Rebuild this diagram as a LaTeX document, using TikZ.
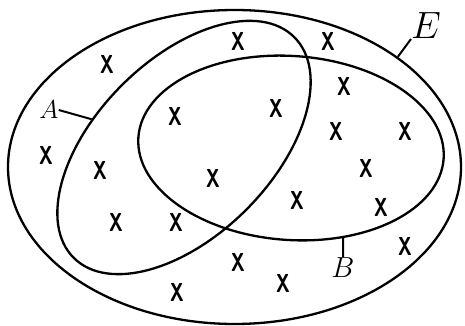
\RequirePackage{fix-cm}
\documentclass[tikz,border=0pt]{standalone}
\usepackage{graphicx}
\usepackage{tikz}
\usetikzlibrary{shapes.geometric}

\begin{document}
\begin{tikzpicture}[x=1pt,y=1pt,
  setline/.style={draw=black,line width=2.3pt,ellipse,inner sep=0pt},
  cross/.style={font=\sffamily\bfseries\fontsize{26}{26}\selectfont,inner sep=0pt},
  setlabel/.style={inner sep=0pt},
  leader/.style={draw=black,line width=2pt}]

\path[use as bounding box] (0,0) rectangle (465,326);
% the three sets
\node[setline,minimum width=453pt,minimum height=314pt] (setE) at (234.5,159) {};
\node[setline,minimum width=312pt,minimum height=176pt,rotate=45] (setA) at (184,178.5) {};
\node[setline,minimum width=306pt,minimum height=184pt,rotate=-4] (setB) at (291,178) {};
% labels
\node[setlabel,font=\fontsize{26}{28}\selectfont] (labA) at (49,216) {$A$};
\node[setlabel,font=\fontsize{29}{31}\selectfont,anchor=north] (labB) at (343,69) {$B$};
\node[setlabel,font=\fontsize{38}{40}\selectfont,anchor=south west] (labE) at (411,287) {$E$};
\draw[leader] (labA.east)--(setA.118);
\draw[leader] (setB.304)--(labB.north);
\draw[leader] (setE.34)--(labE.south west);
% the points
\foreach \px/\py in {107/64,238/41,328/41,344/86,175/116,276/108,336/131,405/131,
  46/155,100/170,213/178,366/168,297/200,381/207,116/222,176/222,
  238/262,283/283,405/246,177/292}
  \node[cross] at (\px,326-\py) {\scalebox{0.72}[1]{X}};

\end{tikzpicture}
\end{document}
